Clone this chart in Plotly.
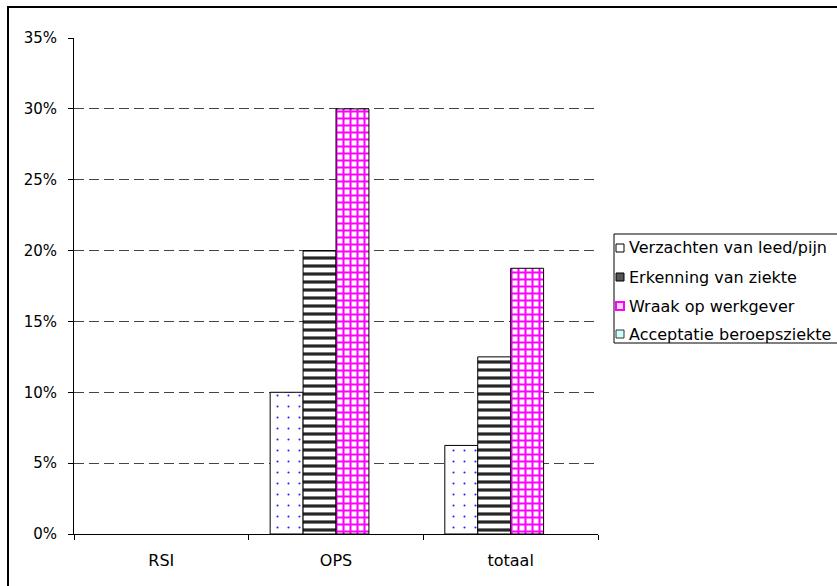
import plotly.graph_objects as go

# Categories and series (share of respondents)
categories = ["RSI", "OPS", "totaal"]
series_names = [
    "Verzachten van leed/pijn",
    "Erkenning van ziekte",
    "Wraak op werkgever",
    "Acceptatie beroepsziekte",
]
verzachten = [0.0, 0.10, 0.0625]
erkenning = [0.0, 0.20, 0.125]
wraak = [0.0, 0.30, 0.1875]
acceptatie = [0.0, 0.0, 0.0]
y_ticks = [0, 0.05, 0.10, 0.15, 0.20, 0.25, 0.30, 0.35]

FONT = "DejaVu Sans, Arial, sans-serif"

# plot area in pixels (for placing the hand-built legend and frame)
L, R, T, B = 74, 598, 38, 534
W, H = R - L, B - T


def px_x(px):
    return (px - L) / W


def px_y(py):
    return 1 - (py - T) / H


styles = [
    dict(color="white", pattern=dict(shape=".", fgcolor="#2020ff", bgcolor="white",
                                     size=11, solidity=0.028, fgopacity=1)),
    dict(color="white", pattern=dict(shape="-", fgcolor="#262626", bgcolor="white",
                                     size=8, solidity=0.4, fgopacity=1)),
    dict(color="white", pattern=dict(shape="+", fgcolor="#ff00ff", bgcolor="white",
                                     size=7, solidity=0.5, fgopacity=1)),
    dict(color="#ccffff"),
]
legend_swatches = [
    dict(fill="white", line="black", lw=1),
    dict(fill="#555555", line="black", lw=1),
    dict(fill="#ffd6ff", line="#ff00ff", lw=2),
    dict(fill="#ccffff", line="#333333", lw=1),
]

fig = go.Figure()
for name, vals, st in zip(series_names, [verzachten, erkenning, wraak, acceptatie], styles):
    widths = [1 if v > 0 else 0 for v in vals]
    marker = dict(line=dict(color="black", width=widths), **st)
    fig.add_trace(go.Bar(name=name, x=categories, y=vals, marker=marker, showlegend=False))

shapes = [
    # outer chart frame (left and top edges visible)
    dict(
        type="rect", xref="paper", yref="paper",
        x0=px_x(8), x1=1.6, y0=-0.5, y1=px_y(7),
        line=dict(color="black", width=2), fillcolor="rgba(0,0,0,0)", layer="above",
    ),
    # legend box
    dict(
        type="rect", xref="paper", yref="paper",
        x0=px_x(614), x1=px_x(870), y0=px_y(343), y1=px_y(234),
        line=dict(color="black", width=1), fillcolor="white", layer="above",
    ),
]
annotations = []
row_y = [248, 277, 306, 334]
for name, sw, ry in zip(series_names, legend_swatches, row_y):
    shapes.append(dict(
        type="rect", xref="paper", yref="paper",
        x0=px_x(616), x1=px_x(624), y0=px_y(ry + 4), y1=px_y(ry - 4),
        line=dict(color=sw["line"], width=sw["lw"]), fillcolor=sw["fill"], layer="above",
    ))
    annotations.append(dict(
        xref="paper", yref="paper", x=px_x(627), y=px_y(ry),
        xanchor="left", yanchor="middle", text=name, showarrow=False,
        font=dict(family=FONT, size=16, color="black"),
    ))

fig.update_layout(
    width=837,
    height=586,
    barmode="group",
    bargap=0.246,
    bargroupgap=0,
    plot_bgcolor="white",
    paper_bgcolor="white",
    margin=dict(l=L, r=837 - R, t=T, b=586 - B),
    font=dict(family=FONT, size=15, color="black"),
    showlegend=False,
    xaxis=dict(
        showline=True,
        linecolor="black",
        linewidth=1,
        ticks="outside",
        tickson="boundaries",
        ticklen=5,
        tickcolor="black",
        showgrid=False,
        tickfont=dict(size=16),
        ticklabelstandoff=12,
    ),
    yaxis=dict(
        range=[0, 0.35],
        tickvals=y_ticks,
        tickformat=".0%",
        showline=True,
        linecolor="black",
        linewidth=1,
        ticks="outside",
        ticklen=5,
        tickcolor="black",
        showgrid=True,
        gridcolor="#444444",
        griddash="10px,5px",
        gridwidth=1,
        zeroline=False,
        tickfont=dict(size=15),
        ticklabelstandoff=8,
    ),
    shapes=shapes,
    annotations=annotations,
)

fig.write_html("out.html")
